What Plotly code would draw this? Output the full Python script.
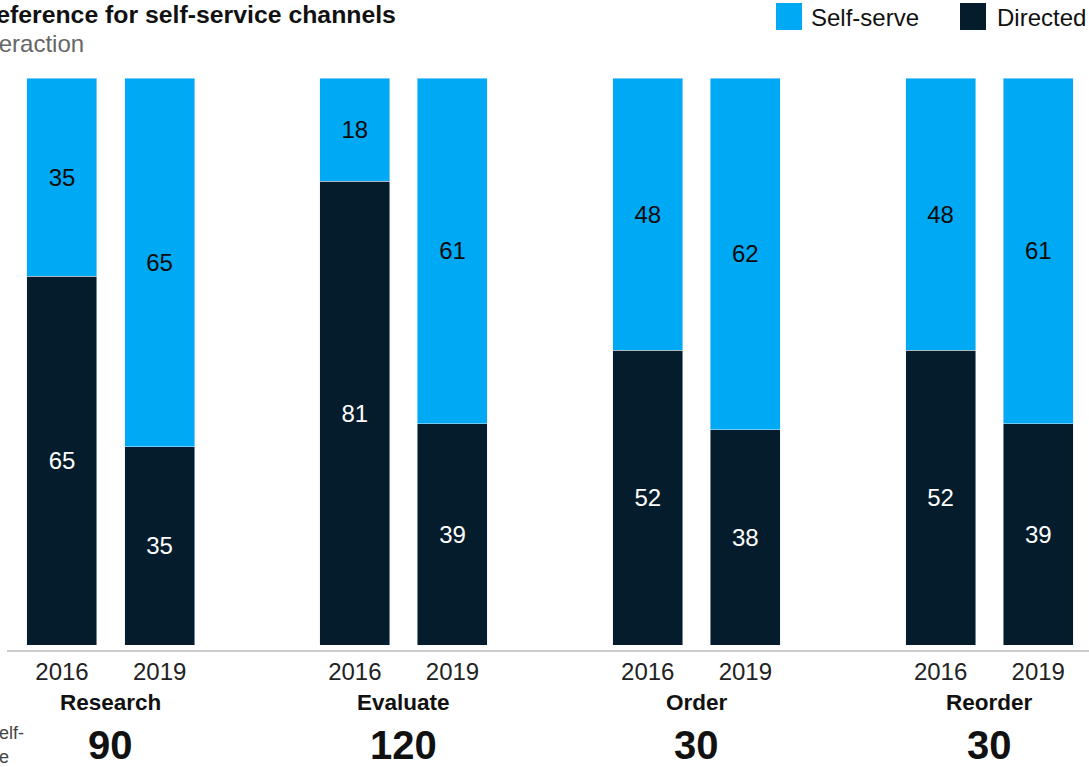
import plotly.graph_objects as go

# ---- data ----
categories = ["Research", "Evaluate", "Order", "Reorder"]
years = ["2016", "2019"]
self_serve = [35, 65, 18, 61, 48, 62, 48, 61]
directed = [65, 35, 81, 39, 52, 38, 52, 39]
totals = [90, 120, 30, 30]

BLUE = "#00A9F4"
NAVY = "#051C2C"
FONT = "Liberation Sans, Arial, sans-serif"

W, H = 1089, 767
M_T, M_B = 78, 122
PLOT_H = H - M_T - M_B

def py(pixel_y):
    """pixel y (from top) -> paper y"""
    return (H - M_B - pixel_y) / PLOT_H

def px(pixel_x):
    return pixel_x / W

xpos = [3 * i + j for i in range(len(categories)) for j in range(len(years))]
year_labels = [years[j] for i in range(len(categories)) for j in range(len(years))]
group_mid = [3 * i + 0.5 for i in range(len(categories))]

fig = go.Figure()
fig.add_trace(go.Bar(
    x=xpos, y=directed, name="Directed", marker_color=NAVY,
    width=0.717, text=directed, texttemplate="%{text}",
    textposition="inside", insidetextanchor="middle",
    textfont=dict(color="white", size=24, family=FONT),
    hoverinfo="skip",
))
fig.add_trace(go.Bar(
    x=xpos, y=self_serve, name="Self-serve", marker_color=BLUE,
    width=0.717, text=self_serve, texttemplate="%{text}",
    textposition="inside", insidetextanchor="middle",
    textfont=dict(color="#0a0a0a", size=24, family=FONT),
    hoverinfo="skip",
))

annotations = []
for m, cat, tot in zip(group_mid, categories, totals):
    annotations.append(dict(x=m, xref="x", y=py(702), yref="paper", text=f"<b>{cat}</b>",
                            showarrow=False, xanchor="center", yanchor="middle",
                            font=dict(size=22.5, color="#111", family=FONT)))
    annotations.append(dict(x=m, xref="x", y=py(745), yref="paper", text=f"<b>{tot}</b>",
                            showarrow=False, xanchor="center", yanchor="middle",
                            font=dict(size=40, color="#111", family=FONT)))

# title / subtitle (cropped on the left as in the reference)
annotations.append(dict(x=px(398), xref="paper", y=py(14), yref="paper",
                        text="<b>Preference for self-service channels</b>", showarrow=False,
                        xanchor="right", yanchor="middle",
                        font=dict(size=24.8, color="#111", family=FONT)))
annotations.append(dict(x=px(86), xref="paper", y=py(44), yref="paper",
                        text="% per interaction", showarrow=False,
                        xanchor="right", yanchor="middle",
                        font=dict(size=24, color="#666", family=FONT)))
# bottom-left cropped label
annotations.append(dict(x=px(26), xref="paper", y=py(733), yref="paper",
                        text="Minutes per self-", showarrow=False,
                        xanchor="right", yanchor="middle",
                        font=dict(size=18, color="#444", family=FONT)))
annotations.append(dict(x=px(11), xref="paper", y=py(757), yref="paper",
                        text="serve", showarrow=False,
                        xanchor="right", yanchor="middle",
                        font=dict(size=18, color="#444", family=FONT)))
# legend
annotations.append(dict(x=px(809), xref="paper", y=py(17), yref="paper",
                        text="Self-serve", showarrow=False, xanchor="left", yanchor="middle",
                        font=dict(size=24, color="#111", family=FONT)))
annotations.append(dict(x=px(995), xref="paper", y=py(17), yref="paper",
                        text="Directed", showarrow=False, xanchor="left", yanchor="middle",
                        font=dict(size=24, color="#111", family=FONT)))

shapes = [
    dict(type="line", xref="paper", yref="paper", x0=px(7), x1=1, y0=py(651), y1=py(651),
         line=dict(color="#9a9a9a", width=1.2)),
    dict(type="rect", xref="paper", yref="paper", x0=px(776), x1=px(802), y0=py(30), y1=py(3),
         fillcolor=BLUE, line=dict(width=0)),
    dict(type="rect", xref="paper", yref="paper", x0=px(960), x1=px(986), y0=py(30), y1=py(3),
         fillcolor=NAVY, line=dict(width=0)),
]

fig.update_layout(
    width=W, height=H,
    barmode="stack", barnorm="percent",
    showlegend=False,
    plot_bgcolor="white", paper_bgcolor="white",
    margin=dict(l=0, r=0, t=M_T, b=M_B, pad=0),
    annotations=annotations, shapes=shapes,
    xaxis=dict(range=[-0.635, 10.52], tickvals=xpos, ticktext=year_labels,
               showgrid=False, zeroline=False, showline=False, ticks="",
               ticklabelstandoff=10,
               tickfont=dict(size=24, color="#222", family=FONT), fixedrange=True),
    yaxis=dict(range=[0, 100], visible=False, showgrid=False, fixedrange=True),
    font=dict(family=FONT),
)

fig.write_html(
    "out.html",
    config={"displayModeBar": False},
    post_script="document.body.style.margin='0';document.body.style.overflow='hidden';",
)
